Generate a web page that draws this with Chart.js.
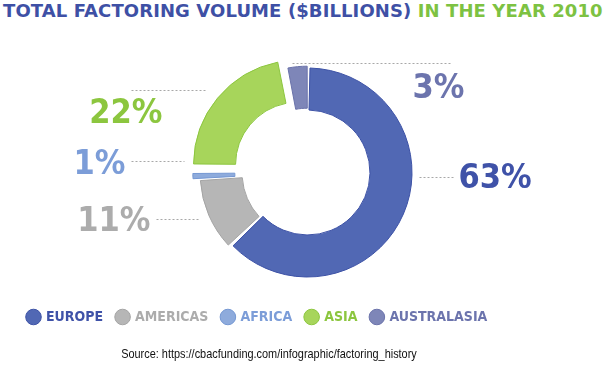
<!DOCTYPE html>
<html>
<head>
<meta charset="utf-8">
<script src="https://cdn.jsdelivr.net/npm/chart.js@4.4.0/dist/chart.umd.min.js"></script>
<style>
  body { margin: 0; background: #fff; }
  #wrap { position: relative; width: 605px; height: 376px; overflow: hidden; }
  #chart { position: absolute; left: 0; top: 0; }
  #title {
    position: absolute; left: 3px; top: 0px; white-space: nowrap;
    font-family: "DejaVu Sans"; font-weight: bold; font-size: 18px;
    letter-spacing: 0.1px;
  }
  #title .blue { color: #3e50a5; }
  #title .green { color: #7dc242; }
  #source {
    position: absolute; left: 0; width: 538px; top: 346px; text-align: center;
    font-family: "Liberation Sans"; font-size: 13px; color: #111;
    transform: scaleX(0.84); transform-origin: 269px 0;
  }
</style>
</head>
<body>
<div id="wrap">
  <div id="title"><span class="blue">TOTAL FACTORING VOLUME ($BILLIONS)</span> <span class="green">IN THE YEAR 2010</span></div>
  <canvas id="chart" width="605" height="376"></canvas>
  <div id="source">Source: https://cbacfunding.com/infographic/factoring_history</div>
</div>
<script>
const regions = ['EUROPE', 'AMERICAS', 'AFRICA', 'ASIA', 'AUSTRALASIA'];
const shares = [63, 11, 1, 22, 3];

const sliceColors = ['#5168b4', '#b6b6b6', '#8eabdc', '#a7d55b', '#7e86b8'];
const sliceBorders = ['#3d52a6', '#a4a4a4', '#7497d2', '#8cc63f', '#6a72aa'];
const textColors = ['#3f52a8', '#acacac', '#7c9dd8', '#8cc63f', '#6c74ad'];
const sliceOffsets = [0, 9, 21, 48, 4];

// where the percent labels and dotted leader lines go, relative to the donut centre
const labelLayout = [
    { x1: 112, x2: 146, ly: 4, tx: 151, ty: 15, align: 'left' },
    { x1: -151, x2: -108, ly: 46, tx: -157, ty: 58, align: 'right' },
    { x1: -176, x2: -123, ly: -12, tx: -182, ty: 1, align: 'right' },
    { x1: -176, x2: -100, ly: -83, tx: -145, ty: -50, align: 'right' },
    { x1: -15, x2: 145, ly: -110, tx: 105, ty: -75, align: 'left' }
];

const percentLabels = {
    id: 'percentLabels',
    afterDatasetsDraw(chart) {
        const ctx = chart.ctx;
        const arcs = chart.getDatasetMeta(0).data;
        ctx.save();
        arcs.forEach(function (arc, i) {
            let cx = arc.x;
            let cy = arc.y;
            let l = labelLayout[i];
            ctx.strokeStyle = '#a8a8a8';
            ctx.lineWidth = 1;
            ctx.setLineDash([2, 2]);
            ctx.beginPath();
            ctx.moveTo(cx + l.x1, Math.round(cy + l.ly) + 0.5);
            ctx.lineTo(cx + l.x2, Math.round(cy + l.ly) + 0.5);
            ctx.stroke();
            ctx.setLineDash([]);
            ctx.fillStyle = textColors[i];
            ctx.font = 'bold 34px "DejaVu Sans Condensed", "DejaVu Sans"';
            ctx.textAlign = l.align;
            ctx.textBaseline = 'alphabetic';
            ctx.fillText(shares[i] + '%', cx + l.tx, cy + l.ty);
        });
        ctx.restore();
    }
};

const ctx = document.querySelector('#chart');
new Chart(ctx, {
    type: 'doughnut',
    data: {
        labels: regions,
        datasets: [{
            data: shares,
            backgroundColor: sliceColors,
            borderColor: sliceBorders,
            borderWidth: 1,
            offset: sliceOffsets,
            spacing: 2
        }]
    },
    options: {
        responsive: false,
        animation: false,
        radius: 103.5,
        cutout: '59.4%',
        layout: { padding: { left: 14, right: 4, top: 49, bottom: 42 } },
        plugins: {
            tooltip: { enabled: false },
            legend: {
                position: 'bottom',
                align: 'start',
                labels: {
                    usePointStyle: true,
                    boxHeight: 11,
                    boxWidth: 11,
                    padding: 14,
                    font: { family: '"DejaVu Sans Condensed", "DejaVu Sans"', size: 14, weight: 'bold' },
                    generateLabels: function () {
                        return regions.map(function (r, i) {
                            return {
                                text: r,
                                fillStyle: sliceColors[i],
                                strokeStyle: sliceBorders[i],
                                lineWidth: 1,
                                fontColor: textColors[i],
                                pointStyle: 'circle',
                                index: i
                            };
                        });
                    }
                }
            }
        }
    },
    plugins: [percentLabels]
});
</script>
</body>
</html>
